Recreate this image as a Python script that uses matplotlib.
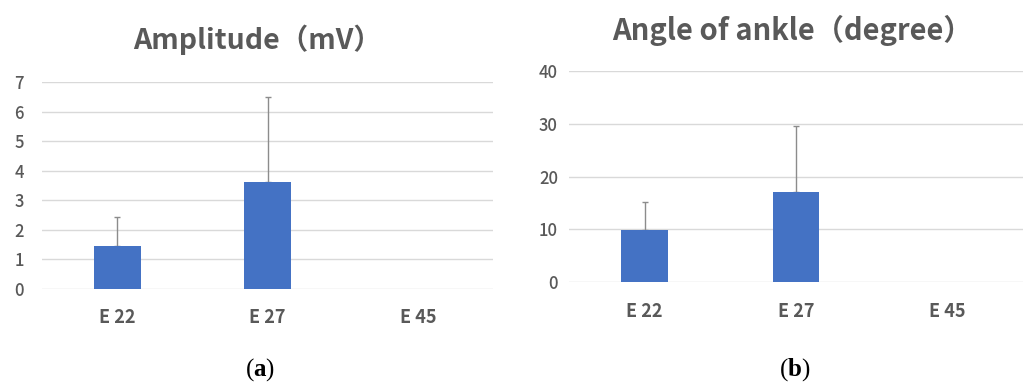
import matplotlib
matplotlib.use('Agg')
import matplotlib.pyplot as plt

categories = ['E 22', 'E 27', 'E 45']
amp_mean = [1.46, 3.64, 0]
amp_sd = [0.99, 2.86, 0]
angle_mean = [9.9, 17.1, 0]
angle_sd = [5.3, 12.4, 0]

plt.rcParams['font.family'] = ['Noto Sans CJK JP', 'DejaVu Sans']
plt.rcParams['mathtext.fontset'] = 'custom'
plt.rcParams['mathtext.bf'] = 'Liberation Serif:bold'
plt.rcParams['mathtext.rm'] = 'Liberation Serif'

gray = '#595959'
bar_color = '#4472C4'

fig = plt.figure(figsize=(10.3, 3.83), dpi=100)
ax1 = fig.add_axes([0.0408, 0.2454, 0.4379, 0.5397])
ax2 = fig.add_axes([0.5524, 0.2629, 0.4408, 0.5525])


def style_panel(ax, means, sds, ymax, step, ypad):
    x = list(range(len(categories)))
    ax.bar(x, means, width=0.31, color=bar_color, zorder=3)
    # only draw error bars where there is a spread
    ex = [i for i in x if sds[i] > 0]
    ax.errorbar(ex, [means[i] for i in ex], yerr=[[0] * len(ex), [sds[i] for i in ex]],
                fmt='none', ecolor='#8c8c8c', elinewidth=1, capsize=2, capthick=1, zorder=2)
    ax.set_xlim(-0.5, len(categories) - 0.5)
    ax.set_ylim(0, ymax)
    ax.set_yticks(range(0, ymax + 1, step))
    ax.set_xticks(x)
    ax.set_xticklabels(categories, fontsize=13, fontweight='bold', color=gray)
    ax.grid(axis='y', color='#d9d9d9', linewidth=1, zorder=0)
    for s in ax.spines.values():
        s.set_visible(False)
    ax.tick_params(axis='both', length=0)
    ax.tick_params(axis='y', labelsize=12, labelcolor=gray, pad=ypad)
    ax.tick_params(axis='x', pad=14)
    for lab in ax.get_yticklabels():
        lab.set_fontweight('medium')


style_panel(ax1, amp_mean, amp_sd, 7, 1, 13)
style_panel(ax2, angle_mean, angle_sd, 40, 10, 8)

fig.text(258 / 1030, 1 - 40 / 383, 'Amplitude（mV）', ha='center', va='center',
         fontsize=20.5, fontweight='bold', color=gray)
fig.text(792 / 1030, 1 - 30 / 383, 'Angle of ankle（degree）', ha='center', va='center',
         fontsize=21, fontweight='bold', color=gray)

fig.text(260 / 1030, 1 - 370 / 383, r'$\mathrm{(}\mathbf{a}\mathrm{)}$', ha='center',
         va='center', fontsize=18, color='black')
fig.text(795 / 1030, 1 - 370 / 383, r'$\mathrm{(}\mathbf{b}\mathrm{)}$', ha='center',
         va='center', fontsize=18, color='black')

fig.savefig('out.png', dpi=100)
